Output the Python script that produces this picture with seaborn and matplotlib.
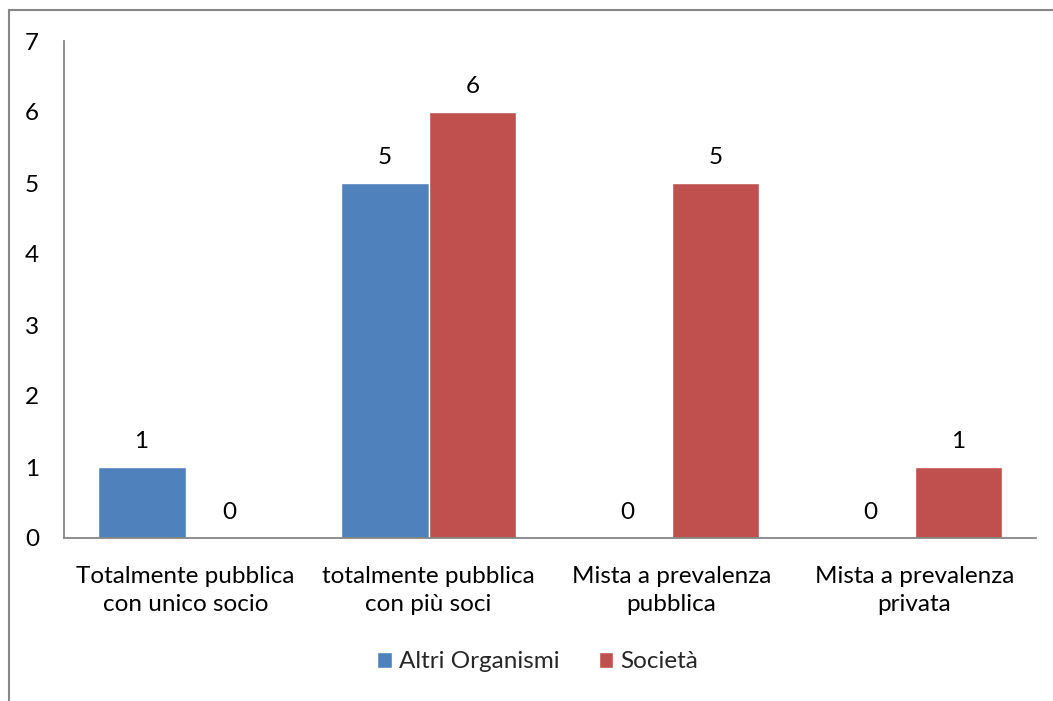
import pandas as pd
import seaborn as sns
import matplotlib.pyplot as plt
from matplotlib.patches import Rectangle

# Dati
categorie = ["Totalmente pubblica\ncon unico socio", "totalmente pubblica\ncon più soci",
             "Mista a prevalenza\npubblica", "Mista a prevalenza\nprivata"]
altri_organismi = [1, 5, 0, 0]
societa = [0, 6, 5, 1]
serie = ["Altri Organismi", "Società"]
colori = ["#4F81BD", "#C0504D"]

df = pd.DataFrame({
    "categoria": categorie * 2,
    "valore": altri_organismi + societa,
    "serie": [serie[0]] * 4 + [serie[1]] * 4,
})

sns.set_style("white")
plt.rcParams["font.family"] = ["Lato", "DejaVu Sans"]
fs = 17.5

fig = plt.figure(figsize=(10.53, 7.01), dpi=100)
ax = fig.add_axes([64 / 1053, 1 - 538 / 701, 972 / 1053, 497 / 701])

sns.barplot(data=df, x="categoria", y="valore", hue="serie", palette=colori,
            width=0.724, saturation=1, ax=ax)

for cont in ax.containers:
    ax.bar_label(cont, fmt="%d", padding=11, fontsize=fs, color="#000000")

ax.set_ylim(0, 7)
ax.set_yticks(range(0, 8))
ax.set_xlim(-0.5, 3.5)
ax.set_xlabel("")
ax.set_ylabel("")
ax.tick_params(axis="both", length=0, labelsize=fs, colors="#000000")
ax.tick_params(axis="x", pad=20)
ax.tick_params(axis="y", pad=18)
for lab in ax.get_xticklabels():
    lab.set_linespacing(1.45)

for s in ["top", "right"]:
    ax.spines[s].set_visible(False)
for s in ["left", "bottom"]:
    ax.spines[s].set_color("#868686")
    ax.spines[s].set_linewidth(1.3)

ax.legend(loc="center", bbox_to_anchor=(538 / 1053, 1 - 662 / 701), bbox_transform=fig.transFigure,
          ncol=2, frameon=False, fontsize=fs, handlelength=0.6, handleheight=0.6,
          handletextpad=0.3, columnspacing=1.6)

fig.add_artist(Rectangle((9 / 1053, -0.1), 2, 1 - 10 / 701 + 0.1, transform=fig.transFigure,
                         fill=False, edgecolor="#868686", linewidth=1.5))

fig.savefig("out.png", dpi=100)
